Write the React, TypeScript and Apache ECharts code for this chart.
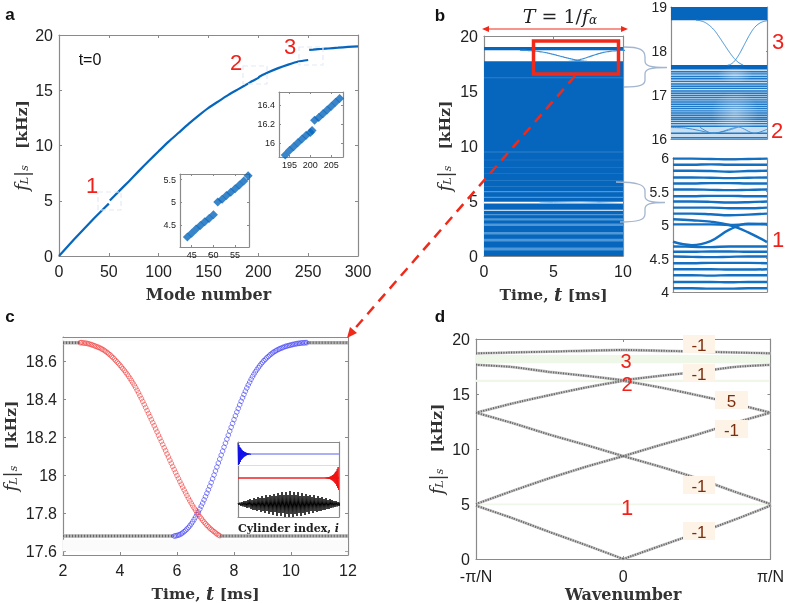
import React, { useEffect, useRef } from "react";
import * as echarts from "echarts";

const BLUE = "#0666bd";
const GRAY = "#8a8a8a";
const SANS = "Liberation Sans";
const SERIF = "DejaVu Serif";
const RED = "#f0201a";

// ---- panel a
const modeCurveA: (number | null)[][] = [[0,0],[10,1.0],[20,1.97],[30,2.92],[40,3.85],[50,4.74],[50.5,null],[51,5.02],[60,5.85],[70,6.75],[80,7.68],[90,8.6],[100,9.48],[110,10.35],[120,11.15],[130,11.95],[140,12.7],[150,13.4],[160,14.0],[170,14.58],[180,15.1],[190,15.62],[194,15.83],[200,16.12],[201,16.22],[210,16.62],[220,17.0],[230,17.32],[240,17.6],[250,17.74],[250.5,null],[251,18.66],[255,18.68],[260,18.72],[265,18.75],[270,18.78],[280,18.85],[290,18.92],[300,18.97]];
const insetA1: number[][] = [[44,4.25],[45,4.33],[46,4.42],[47,4.5],[48,4.58],[49,4.65],[50,4.73],[51,5.01],[52,5.07],[53,5.15],[54,5.22],[55,5.3],[56,5.38],[57,5.47],[58,5.58]];
const insetA2: number[][] = [[194,15.87],[195,15.92],[196,15.96],[197,16.0],[198,16.04],[199,16.08],[200,16.11],[200.4,16.13],[201,16.24],[202,16.27],[203,16.31],[204,16.35],[205,16.39],[206,16.43],[207,16.47]];

// ---- panel b, main
const solidBandsB: number[][] = [[0,17.7],[18.7,19]];
const paleStripesB: number[][] = [[0.5,0.78],[1.32,1.56],[1.95,2.18],[2.72,2.95],[3.22,3.44],[3.7,3.82],[5.28,5.38],[5.8,5.9]];
const faintStripesB: number[][] = [[6.3,6.36],[6.85,6.9],[7.45,7.5],[8.05,8.1],[8.7,8.76],[9.42,9.5],[16.15,16.25]];
const whiteStripesB: number[][] = [[4.78,4.94],[4.12,4.2]];
const crossingFive: number[][] = [[4,4.83],[5,4.87],[6,4.9],[7,4.92],[8,4.88],[9,4.82],[10,4.76]];

// ---- shared crossing curves (panels b, c)
const redCurve: number[][] = [[2.6,18.7],[2.65,18.7],[2.7,18.699],[2.75,18.698],[2.8,18.697],[2.85,18.696],[2.9,18.694],[2.95,18.692],[3,18.69],[3.05,18.687],[3.1,18.684],[3.15,18.681],[3.2,18.678],[3.25,18.675],[3.3,18.672],[3.35,18.668],[3.4,18.664],[3.45,18.659],[3.5,18.654],[3.55,18.648],[3.6,18.642],[3.65,18.636],[3.7,18.629],[3.75,18.622],[3.8,18.614],[3.85,18.606],[3.9,18.598],[3.95,18.59],[4,18.581],[4.05,18.572],[4.1,18.563],[4.15,18.554],[4.2,18.544],[4.25,18.534],[4.3,18.523],[4.35,18.512],[4.4,18.5],[4.45,18.488],[4.5,18.476],[4.55,18.463],[4.6,18.449],[4.65,18.435],[4.7,18.42],[4.75,18.405],[4.8,18.39],[4.85,18.374],[4.9,18.358],[4.95,18.342],[5,18.326],[5.05,18.31],[5.1,18.294],[5.15,18.278],[5.2,18.262],[5.25,18.245],[5.3,18.229],[5.35,18.212],[5.4,18.196],[5.45,18.179],[5.5,18.163],[5.55,18.146],[5.6,18.13],[5.65,18.113],[5.7,18.097],[5.75,18.08],[5.8,18.064],[5.85,18.047],[5.9,18.031],[5.95,18.015],[6,17.999],[6.05,17.984],[6.1,17.968],[6.15,17.953],[6.2,17.938],[6.25,17.923],[6.3,17.908],[6.35,17.894],[6.4,17.88],[6.45,17.866],[6.5,17.853],[6.55,17.84],[6.6,17.828],[6.65,17.816],[6.7,17.804],[6.75,17.793],[6.8,17.783],[6.85,17.773],[6.9,17.763],[6.95,17.754],[7,17.745],[7.05,17.737],[7.1,17.729],[7.15,17.722],[7.2,17.715],[7.25,17.709],[7.3,17.703],[7.35,17.697],[7.4,17.691],[7.45,17.686],[7.5,17.682]];
const blueCurve: number[][] = [[5.9,17.68],[5.95,17.681],[6,17.683],[6.05,17.685],[6.1,17.688],[6.15,17.692],[6.2,17.697],[6.25,17.703],[6.3,17.71],[6.35,17.717],[6.4,17.725],[6.45,17.734],[6.5,17.744],[6.55,17.755],[6.6,17.767],[6.65,17.78],[6.7,17.793],[6.75,17.807],[6.8,17.822],[6.85,17.838],[6.9,17.854],[6.95,17.871],[7,17.888],[7.05,17.906],[7.1,17.924],[7.15,17.943],[7.2,17.962],[7.25,17.982],[7.3,18.002],[7.35,18.023],[7.4,18.044],[7.45,18.065],[7.5,18.086],[7.55,18.107],[7.6,18.128],[7.65,18.149],[7.7,18.17],[7.75,18.191],[7.8,18.212],[7.85,18.233],[7.9,18.254],[7.95,18.274],[8,18.294],[8.05,18.314],[8.1,18.334],[8.15,18.353],[8.2,18.372],[8.25,18.391],[8.3,18.409],[8.35,18.427],[8.4,18.444],[8.45,18.461],[8.5,18.477],[8.55,18.492],[8.6,18.507],[8.65,18.521],[8.7,18.534],[8.75,18.546],[8.8,18.557],[8.85,18.568],[8.9,18.578],[8.95,18.588],[9,18.597],[9.05,18.605],[9.1,18.613],[9.15,18.62],[9.2,18.627],[9.25,18.634],[9.3,18.64],[9.35,18.646],[9.4,18.651],[9.45,18.656],[9.5,18.66],[9.55,18.664],[9.6,18.668],[9.65,18.671],[9.7,18.674],[9.75,18.677],[9.8,18.68],[9.85,18.682],[9.9,18.684],[9.95,18.686],[10,18.688],[10.05,18.69],[10.1,18.692],[10.15,18.693],[10.2,18.695],[10.25,18.696],[10.3,18.697],[10.35,18.698],[10.4,18.699],[10.45,18.699],[10.5,18.7],[10.55,18.7]];

// ---- panel b, inset 16-19
const solidBandsB1: number[][] = [[18.7,19],[17.58,17.68]];
const paleBaseB1: number[][] = [[16,17.58]];
const linesB1: number[] = [17.53,17.48,17.42,17.37,17.31,17.25,17.2,17.15,17.09,17.04,16.99,16.94,16.89,16.84,16.79,16.74,16.69,16.64,16.59,16.54,16.49,16.45,16.4,16.35,16.29,16.13,16.03];
const crossLowA: number[][] = [[0,16.26],[1.5,16.25],[3,16.19],[4.4,16.13],[6,16.2],[7,16.27]];
const crossLowB: number[][] = [[3,16.27],[4.2,16.14],[5,16.15],[7,16.27],[8.7,16.13],[10,16.22]];

// ---- panel b, inset 4-6 (frequencies at sampleTimesB2)
const sampleTimesB2: number[] = [0,2,4,6,8,10];
const rowsB2: number[][] = [
  [5.99,5.99,5.985,5.98,5.985,5.99],[5.9,5.9,5.905,5.9,5.9,5.9],[5.81,5.81,5.805,5.795,5.805,5.81],[5.71,5.71,5.705,5.7,5.705,5.71],
  [5.62,5.62,5.625,5.625,5.62,5.62],[5.53,5.53,5.525,5.52,5.525,5.53],[5.43,5.43,5.435,5.435,5.43,5.43],[5.35,5.35,5.345,5.335,5.34,5.35],
  [5.26,5.26,5.26,5.25,5.25,5.26],[5.17,5.17,5.16,5.145,5.155,5.17],[5.085,5.07,5.05,5.0,4.89,4.745],[4.75,4.7,4.76,4.93,5.02,5.015],
  [5.01,5.01,5.01,5.0,5.01,5.01],[4.68,4.675,4.67,4.68,4.68,4.68],[4.6,4.6,4.605,4.605,4.6,4.6],[4.53,4.525,4.52,4.525,4.53,4.53],[4.43,4.43,4.435,4.435,4.435,4.43],
  [4.34,4.34,4.34,4.335,4.335,4.34],[4.25,4.25,4.245,4.25,4.25,4.25],[4.15,4.15,4.15,4.145,4.15,4.15],[4.055,4.055,4.05,4.05,4.055,4.055],
];

// ---- panel c
const grayTop: number[][][] = [[[2,18.7],[2.6,18.7]],[[10.55,18.7],[12,18.7]]];
const grayBottom: number[][][] = [[[2,17.68],[5.9,17.68]],[[7.5,17.68],[12,17.68]]];
const faintBandsC: number[][] = [[18.71,18.725],[17.6,17.66]];
const blueSignal: number[] = [11,-11,9,-10,7,-8,6,-6,4.5,-5,3.5,-4,3,-3,2.2,-2.4,1.8,-1.8,1.3,-1.3,1,-1,.7,-.7,.5,-.5,.3,-.3,.2,-.2];
const redSignal: number[] = [.2,-.2,.3,-.3,.5,-.5,.7,-.7,1,-1,1.3,-1.3,1.8,-1.8,2.2,-2.4,3,-3,3.5,-4,4.5,-5,6,-6,7,-8,9,-10,11,-12];
const blackSignal: number[] = [1,-1,1.5,-2,2,-2.5,3,-3,3,-4,4,-3.5,5,-5,4,-6,6,-6,5,-7,7,-6,6,-8,8,-7,6,-9,9,-7,7,-10,9,-8,8,-11,10,-8,8,-12,11,-9,9,-12,12,-9,9,-13,12,-10,9,-13,13,-10,9,-13,12,-10,9,-12,12,-9,8,-12,11,-9,8,-11,10,-8,8,-10,9,-7,7,-9,9,-7,6,-8,8,-7,6,-7,7,-6,5,-6,6,-5,4,-5,5,-4,4,-3.5,3,-3,3,-2.5,2,-2,1.5,-1];

// ---- panel d
const bandA: number[][] = [[-1,4.85],[-0.75,3.7],[-0.5,2.45],[-0.25,1.25],[0,0]];
const bandB: number[][] = [[0,0],[0.39,1.84],[0.62,2.9],[0.8,3.8],[1,4.85]];
const bandC: number[][] = [[-1,5.0],[-0.75,6.2],[-0.5,7.35],[-0.25,8.4],[0,9.35]];
const bandD: number[][] = [[0,9.35],[0.25,8.4],[0.5,7.35],[0.75,6.15],[1,5.0]];
const bandE: number[][] = [[-1,13.3],[-0.75,12.35],[-0.5,11.3],[-0.25,10.35],[0,9.35]];
const bandF: number[][] = [[0,9.35],[0.25,10.35],[0.5,11.3],[0.75,12.35],[1,13.3]];
const bandG: number[][] = [[-1,13.3],[-0.75,14.15],[-0.5,14.9],[-0.25,15.6],[0,16.2]];
const bandH: number[][] = [[0,16.2],[0.25,15.6],[0.5,14.9],[0.75,14.15],[1,13.3]];
const bandI: number[][] = [[-1,17.65],[-0.75,17.45],[-0.5,17.0],[-0.25,16.65],[0,16.25]];
const bandJ: number[][] = [[0,16.25],[0.25,16.65],[0.5,17.0],[0.75,17.45],[1,17.65]];
const bandK: number[][] = [[-1,18.7],[-0.5,18.85],[0,19.0],[0.5,18.85],[1,18.7]];
const greenBandsD: number[][] = [[17.8,18.55],[16.1,16.3],[4.88,5.05]];
const dBoxLabels: string[] = ["-1","-1","5","-1","-1","-1"];

// ---- tick lists
const ticksA = { x: [0,50,100,150,200,250,300], y: [0,5,10,15,20] };
const ticksA1 = { x: [45,50,55], y: [4.5,5,5.5] };
const ticksA2 = { x: [195,200,205], y: [16,16.2,16.4] };
const ticksB = { x: [0,5,10], y: [0,5,10,15,20] };
const ticksB1 = { y: [16,17,18,19] };
const ticksB2 = { y: [4,4.5,5,5.5,6] };
const ticksC = { x: [2,4,6,8,10,12], y: [17.6,17.8,18,18.2,18.4,18.6] };
const ticksD = { x: [-1,0,1], y: [0,5,10,15,20] };

const fMath = "{i|f}{sub|L}{bar||}{sub|s}{b|   [kHz]}";
const timeMath = "{b|Time, }{i|t}{b| [ms]}";
const nameRich = {
  i: { fontFamily: SERIF, fontStyle: "italic", fontSize: 18, color: "#333" },
  sub: { fontFamily: SERIF, fontStyle: "italic", fontSize: 11, color: "#333", verticalAlign: "bottom" },
  bar: { fontFamily: SERIF, fontSize: 18, color: "#333" },
  b: { fontFamily: SERIF, fontWeight: "bold", fontSize: 15.5, color: "#333" },
};
const insetRich = {
  i: { fontFamily: SERIF, fontStyle: "italic", fontSize: 11, color: "#222" },
  b: { fontFamily: SERIF, fontWeight: "bold", fontSize: 11, color: "#222" },
};

type P = { l: number; t: number; r: number; b: number; xMin: number; xMax: number; yMin: number; yMax: number; xTicks?: number[]; yTicks?: number[]; xName?: string; yName?: string; xGap?: number; yGap?: number; size?: number; xFmt?: (v: number) => string; yFmt?: (v: number) => string; tickLen?: number; nameSize?: number; xRich?: any; xMargin?: number };

function buildAxes(panels: P[]) {
  const grid: any[] = [], xAxis: any[] = [], yAxis: any[] = [];
  panels.forEach((p, i) => {
    grid.push({ left: p.l, top: p.t, width: p.r - p.l, height: p.b - p.t });
    const line = { show: true, onZero: false, lineStyle: { color: GRAY, width: 1.2 } };
    const tick = (vals?: number[]) => ({ show: !!vals, inside: true, length: p.tickLen ?? 3, lineStyle: { color: GRAY }, customValues: vals });
    const label = (vals: number[] | undefined, fmt: any, margin: number) => ({ show: !!vals, customValues: vals, fontFamily: SANS, fontSize: p.size ?? 16, color: "#222", margin, formatter: fmt ?? ((v: number) => String(v)) });
    xAxis.push({ gridIndex: i, type: "value", position: "bottom", min: p.xMin, max: p.xMax, splitLine: { show: false }, axisLine: line, axisTick: tick(p.xTicks), axisLabel: label(p.xTicks, p.xFmt, p.xMargin ?? (p.size ? 3 : 7)), name: p.xName, nameLocation: "middle", nameGap: p.xGap, nameTextStyle: p.nameSize ? { fontFamily: SERIF, fontWeight: "bold", fontSize: p.nameSize, color: "#333" } : { fontFamily: SERIF, fontWeight: "bold", fontSize: 16, color: "#333", rich: p.xRich ?? nameRich } });
    xAxis.push({ gridIndex: i, type: "value", position: "top", min: p.xMin, max: p.xMax, splitLine: { show: false }, axisLine: line, axisTick: tick(p.xTicks), axisLabel: { show: false } });
    yAxis.push({ gridIndex: i, type: "value", position: "left", min: p.yMin, max: p.yMax, splitLine: { show: false }, axisLine: line, axisTick: tick(p.yTicks), axisLabel: label(p.yTicks, p.yFmt, p.size ? 4 : 6), name: p.yName, nameLocation: "middle", nameRotate: 90, nameGap: p.yGap, nameTextStyle: { rich: nameRich } });
    yAxis.push({ gridIndex: i, type: "value", position: "right", min: p.yMin, max: p.yMax, splitLine: { show: false }, axisLine: line, axisTick: tick(p.yTicks), axisLabel: { show: false } });
  });
  return { grid, xAxis, yAxis };
}

const bands = (g: number, data: number[][], color: string, x0: number, x1: number, z = 1) => ({
  type: "custom", xAxisIndex: g * 2, yAxisIndex: g * 2, silent: true, z, clip: true,
  encode: { x: [0, 2], y: [1, 3] },
  data: data.map((d) => [x0, d[0], x1, d[1]]),
  renderItem: (_: any, api: any) => {
    const a = api.coord([api.value(0), api.value(3)]);
    const b = api.coord([api.value(2), api.value(1)]);
    return { type: "rect", shape: { x: a[0], y: a[1], width: b[0] - a[0], height: b[1] - a[1] }, style: { fill: color } };
  },
});
const line = (g: number, data: any[], color: string, width: number, extra: any = {}) => ({
  type: "line", xAxisIndex: g * 2, yAxisIndex: g * 2, data, showSymbol: false, symbol: "none", connectNulls: false, silent: true, z: 3,
  lineStyle: { color, width, ...(extra.lineStyle || {}) }, ...(extra.smooth ? { smooth: extra.smooth } : {}),
});
const scatter = (g: number, data: any[], size: number, style: any, symbol = "circle") => ({
  type: "scatter", xAxisIndex: g * 2, yAxisIndex: g * 2, data, symbol, symbolSize: size, itemStyle: style, silent: true, z: 4,
});

const panels: P[] = [
  { l: 59, t: 35, r: 358, b: 256, xMin: 0, xMax: 300, yMin: 0, yMax: 20, xTicks: ticksA.x, yTicks: ticksA.y, xName: "Mode number", xGap: 30, yName: fMath, yGap: 29, nameSize: 16 },
  { l: 180, t: 174, r: 249, b: 247, xMin: 42.3, xMax: 58.2, yMin: 4.03, yMax: 5.62, xTicks: ticksA1.x, yTicks: ticksA1.y, size: 9, tickLen: 2 },
  { l: 279, t: 92, r: 343, b: 157, xMin: 192.5, xMax: 207.8, yMin: 15.85, yMax: 16.54, xTicks: ticksA2.x, yTicks: ticksA2.y, size: 9, tickLen: 2 },
  { l: 484, t: 36, r: 623, b: 256, xMin: 0, xMax: 10, yMin: 0, yMax: 20, xTicks: ticksB.x, yTicks: ticksB.y, xName: timeMath, xGap: 29, yName: fMath, yGap: 31 },
  { l: 671, t: 6, r: 767, b: 139, xMin: 0, xMax: 10, yMin: 16, yMax: 19, yTicks: ticksB1.y, size: 14, tickLen: 1 },
  { l: 673, t: 158, r: 767, b: 292, xMin: 0, xMax: 10, yMin: 4, yMax: 6, yTicks: ticksB2.y, size: 14, tickLen: 1 },
  { l: 61, t: 337, r: 348, b: 557, xMin: 2, xMax: 12, yMin: 17.58, yMax: 18.73, xTicks: ticksC.x, yTicks: ticksC.y, xName: timeMath, xGap: 29, yName: fMath, yGap: 44 },
  { l: 238, t: 442, r: 339, b: 517, xMin: 0, xMax: 101, yMin: 0, yMax: 75, xName: "{b|Cylinder index, }{i|i}", xGap: 6, xRich: insetRich },
  { l: 476, t: 339, r: 774, b: 560, xMin: -1, xMax: 1, yMin: 0, yMax: 20, xTicks: ticksD.x, yTicks: ticksD.y, xName: "Wavenumber", xGap: 27, yName: fMath, yGap: 31, nameSize: 16, xMargin: 9, xFmt: (v: number) => (v === -1 ? "-π/N" : v === 1 ? "π/N" : "0") },
];

const shiftBy = (arr: number[], base: number, step: number, start: number) => arr.map((v, i) => [start + i * step, base + v]);

const series: any[] = [
  // a
  line(0, modeCurveA, BLUE, 2.2, { smooth: 0.2 }),
  scatter(1, insetA1, 9, { color: BLUE }, "diamond"),
  scatter(2, insetA2, 9, { color: BLUE }, "diamond"),
  // b main
  bands(3, solidBandsB, BLUE, 0, 10, 1),
  bands(3, faintStripesB, "#2f80c9", 0, 10, 2),
  bands(3, paleStripesB, "#4f97d6", 0, 10, 2),
  bands(3, whiteStripesB, "#ffffff", 0, 10, 2),
  line(3, crossingFive, "#8fc0e8", 1),
  line(3, redCurve, "#3f8fd3", 1.2),
  line(3, blueCurve, "#3f8fd3", 1.2),
  // b1
  bands(4, paleBaseB1, "#c8dff2", 0, 10, 1),
  bands(4, linesB1.map((f) => [f - 0.016, f + 0.016]), "#1f77c6", 0, 10, 2),
  bands(4, solidBandsB1, BLUE, 0, 10, 2),
  line(4, redCurve, "#3f8fd3", 1),
  line(4, blueCurve, "#3f8fd3", 1),
  line(4, crossLowA, "#3f8fd3", 1, { smooth: 0.3 }),
  line(4, crossLowB, "#3f8fd3", 1, { smooth: 0.3 }),
  // b2
  ...rowsB2.map((row) => line(5, row.map((f, i) => [sampleTimesB2[i], f]), "#126fc2", 2.4, { smooth: 0.4 })),
  // c
  bands(6, faintBandsC, "#fafbfa", 2, 12, 1),
  ...[...grayTop, ...grayBottom].map((seg) => line(6, seg, "#b0b0b0", 3.6)),
  ...[...grayTop, ...grayBottom].map((seg) => line(6, seg, "#666666", 2.4, { lineStyle: { type: [1, 2] } })),
  scatter(6, blueCurve, 4.6, { color: "transparent", borderColor: "rgba(50,50,245,0.8)", borderWidth: 0.9 }),
  scatter(6, redCurve, 4.6, { color: "transparent", borderColor: "rgba(240,50,50,0.8)", borderWidth: 0.9 }),
  // c inset
  line(7, [[0, 51.5], [101, 51.5]], "#dddddd", 1),
  line(7, [[0, 63], [101, 63]], "#aab0f5", 1.8),
  line(7, shiftBy(blueSignal, 63, 0.45, 0), "#1010e8", 1),
  line(7, [[0, 39], [101, 39]], "#f02020", 1.4),
  line(7, shiftBy(redSignal, 39, 0.45, 87.5), "#f01010", 1),
  line(7, shiftBy(blackSignal, 13, 1, 0), "#000000", 1),
  // d
  bands(8, greenBandsD, "#eff8e8", -1, 0.99, 1),
  ...[bandA, bandB, bandC, bandD, bandE, bandF, bandG, bandH, bandI, bandJ, bandK].map((b) => line(8, b, "#c4c4c4", 2.8, { smooth: 0.2 })),
  ...[bandA, bandB, bandC, bandD, bandE, bandF, bandG, bandH, bandI, bandJ, bandK].map((b) => line(8, b, "#666666", 1.9, { smooth: 0.2, lineStyle: { type: [1.2, 1.3] } })),
];

const txt = (text: string, x: number, y: number, size: number, fill: string, extra: any = {}) => ({
  type: "text", x, y, z: 100, style: { text, fontFamily: SANS, fontSize: size, fill, align: "center", verticalAlign: "middle", ...extra },
});
const dRect = (x: number, y: number, w: number, h: number) => ({
  type: "rect", z: 50, shape: { x, y, width: w, height: h }, style: { fill: "none", stroke: "#e4ebf6", lineWidth: 1.2, lineDash: [5, 3] },
});
const softBlob = () => new echarts.graphic.RadialGradient(0.5, 0.5, 0.5, [
  { offset: 0, color: "rgba(255,255,255,0.4)" },
  { offset: 1, color: "rgba(255,255,255,0)" },
]);

const boxSpots = [[683,335],[683,364],[715,391],[715,420],[683,476],[683,522]];
const boxWidth = [32,32,33,33,32,32];

function graphics() {
  const g: any[] = [
    txt("a", 10, 14, 17, "#111", { fontWeight: "bold" }),
    txt("b", 440, 15, 17, "#111", { fontWeight: "bold" }),
    txt("c", 10, 316, 17, "#111", { fontWeight: "bold" }),
    txt("d", 440, 316, 17, "#111", { fontWeight: "bold" }),
    txt("t=0", 90, 59, 16, "#111"),
    txt("1", 92, 185, 22, RED), txt("2", 236, 62, 22, RED), txt("3", 290, 46, 22, RED),
    txt("3", 778, 41, 22, RED), txt("2", 777, 130, 22, RED), txt("1", 778, 239, 22, RED),
    txt("3", 626, 361, 20, RED), txt("2", 627, 384, 20, RED), txt("1", 627, 507, 22, RED),
    dRect(98, 192, 23, 18), dRect(243, 66, 24, 18), dRect(299, 47, 24, 18),
    { type: "ellipse", z: 40, shape: { cx: 735, cy: 75, rx: 18, ry: 8 }, style: { fill: softBlob() } },
    { type: "ellipse", z: 40, shape: { cx: 735, cy: 113, rx: 24, ry: 22 }, style: { fill: softBlob() } },
    { type: "rect", z: 60, shape: { x: 533.5, y: 41, width: 85, height: 33 }, style: { fill: "none", stroke: "#f02a1a", lineWidth: 3.5 } },
    { type: "line", z: 60, shape: { x1: 575, y1: 76, x2: 351, y2: 333 }, style: { stroke: "#f02a1a", lineWidth: 2.5, lineDash: [10, 7] } },
    { type: "polygon", z: 60, shape: { points: [[347, 338], [350, 327], [357, 333]] }, style: { fill: "#f02a1a" } },
    { type: "line", z: 60, shape: { x1: 485, y1: 29, x2: 625, y2: 29 }, style: { stroke: "#f02a1a", lineWidth: 1.2 } },
    { type: "polygon", z: 60, shape: { points: [[482, 29], [489, 26], [489, 32]] }, style: { fill: "#f02a1a" } },
    { type: "polygon", z: 60, shape: { points: [[628, 29], [621, 26], [621, 32]] }, style: { fill: "#f02a1a" } },
    {
      type: "text", x: 560, y: 16, z: 100,
      style: {
        text: "{i|T} = 1/{i|f}{s|α}", align: "center", verticalAlign: "middle", fontFamily: SERIF, fontSize: 19, fill: "#222",
        rich: { i: { fontFamily: SERIF, fontStyle: "italic", fontSize: 19, fill: "#222" }, s: { fontFamily: SERIF, fontStyle: "italic", fontSize: 12, fill: "#222", verticalAlign: "bottom" } },
      },
    },
    { type: "brace1", z: 50, x: 0, y: 0, style: { fill: "none", stroke: "#a3b6cf", lineWidth: 1.3 } },
    { type: "brace2", z: 50, x: 0, y: 0, style: { fill: "none", stroke: "#a3b6cf", lineWidth: 1.3 } },
  ];
  boxSpots.forEach((p, i) => {
    g.push({ type: "rect", z: 80, shape: { x: p[0], y: p[1], width: boxWidth[i], height: 18 }, style: { fill: "#fdf3e6" } });
    g.push(txt(dBoxLabels[i], p[0] + boxWidth[i] / 2, p[1] + 10, 17, "#7a2e10"));
  });
  return g;
}

echarts.graphic.registerShape("brace1", echarts.graphic.extendPath("M624 47 C 640 47 645 50 645 57 L 645 61 C 645 66 650 67.5 667 67.5 C 650 67.5 645 69 645 74 L 645 80 C 645 85 640 87 624 87", {}));
echarts.graphic.registerShape("brace2", echarts.graphic.extendPath("M616 182 C 638 182 645 185 645 191 L 645 196 C 645 201 650 202.5 665 202.5 C 650 202.5 645 204 645 209 L 645 214 C 645 220 638 222 620 222", {}));

export default function App() {
  const ref = useRef<HTMLDivElement>(null);
  useEffect(() => {
    const chart = echarts.init(ref.current!, undefined, { renderer: "svg" });
    const axes = buildAxes(panels);
    chart.setOption({ animation: false, backgroundColor: "#ffffff", ...axes, series, graphic: { elements: graphics() } });
    return () => chart.dispose();
  }, []);
  return <div ref={ref} style={{ position: "fixed", left: 0, top: 0, width: 787, height: 603, filter: "blur(0.45px)" }} />;
}
